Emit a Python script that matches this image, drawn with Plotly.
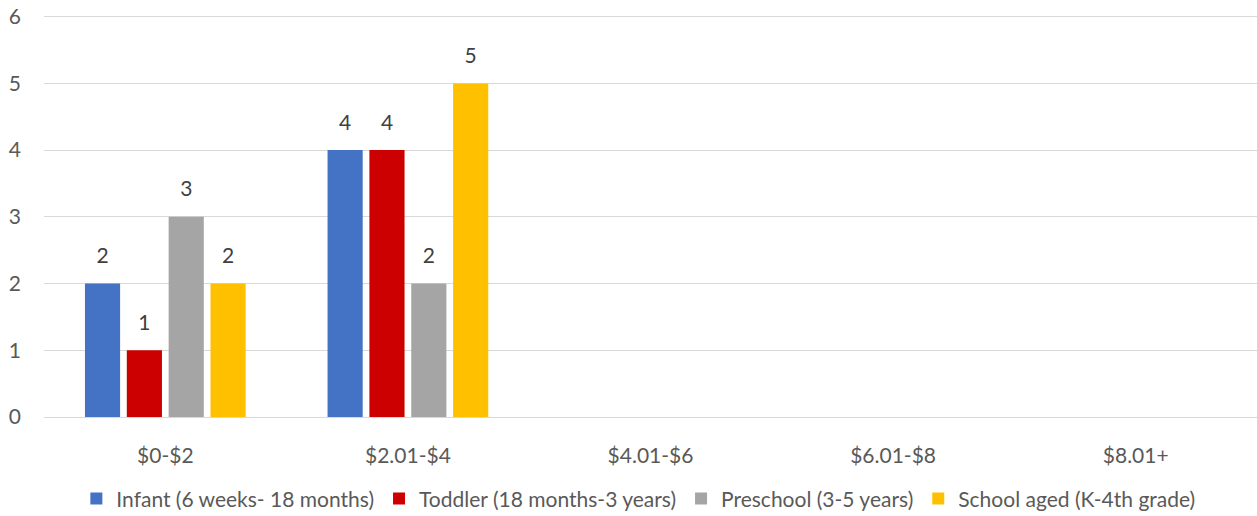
import plotly.graph_objects as go

categories = ["$0-$2", "$2.01-$4", "$4.01-$6", "$6.01-$8", "$8.01+"]
infant = [2, 4, None, None, None]
toddler = [1, 4, None, None, None]
preschool = [3, 2, None, None, None]
school_aged = [2, 5, None, None, None]

series = [
    ("Infant (6 weeks- 18 months)", infant, "#4472C4"),
    ("Toddler (18 months-3 years)", toddler, "#CC0000"),
    ("Preschool (3-5 years)", preschool, "#A5A5A5"),
    ("School aged (K-4th grade)", school_aged, "#FFC000"),
]

FONT = "Lato"
TEXT = "#595959"
LABEL_PAD = 0.2  # gap between bar top and its value label, in axis units

fig = go.Figure()
for i, (name, values, color) in enumerate(series):
    group = str(i)
    fig.add_trace(
        go.Bar(
            name=name,
            x=categories,
            y=values,
            offsetgroup=group,
            marker=dict(color=color, line=dict(width=0)),
            hovertemplate="%{x}: %{y}<extra>" + name + "</extra>",
        )
    )
    # invisible spacer stacked on top of each bar, carrying the value label
    fig.add_trace(
        go.Bar(
            x=categories,
            y=[LABEL_PAD if v is not None else None for v in values],
            base=values,
            offsetgroup=group,
            marker=dict(color="rgba(0,0,0,0)", line=dict(width=0)),
            text=values,
            textposition="outside",
            constraintext="none",
            textfont=dict(size=21, color="#404040", family=FONT),
            cliponaxis=False,
            showlegend=False,
            hoverinfo="skip",
        )
    )

fig.update_layout(
    width=1257,
    height=516,
    barmode="group",
    bargap=0.31,
    bargroupgap=0.16,
    plot_bgcolor="white",
    paper_bgcolor="white",
    margin=dict(l=44, r=0, t=10, b=99),
    font=dict(family=FONT, size=21, color=TEXT),
    xaxis=dict(
        showgrid=False,
        showline=True,
        linecolor="#D9D9D9",
        linewidth=1,
        ticks="",
        tickfont=dict(size=21, color=TEXT),
        ticklabelstandoff=20,
    ),
    yaxis=dict(
        range=[0, 6.1],
        tickvals=[0, 1, 2, 3, 4, 5, 6],
        showgrid=True,
        gridcolor="#D9D9D9",
        gridwidth=1,
        zeroline=False,
        showline=False,
        ticks="",
        tickfont=dict(size=21, color=TEXT),
        ticklabelstandoff=22,
    ),
    legend=dict(
        orientation="h",
        x=0.49,
        xanchor="center",
        xref="paper",
        y=0.033,
        yref="container",
        yanchor="middle",
        font=dict(size=21, color=TEXT),
        itemwidth=30,
        tracegroupgap=0,
    ),
    showlegend=True,
)

fig.write_html(
    "out.html",
    config={"displayModeBar": False},
    post_script="document.body.style.margin='0';",
)
